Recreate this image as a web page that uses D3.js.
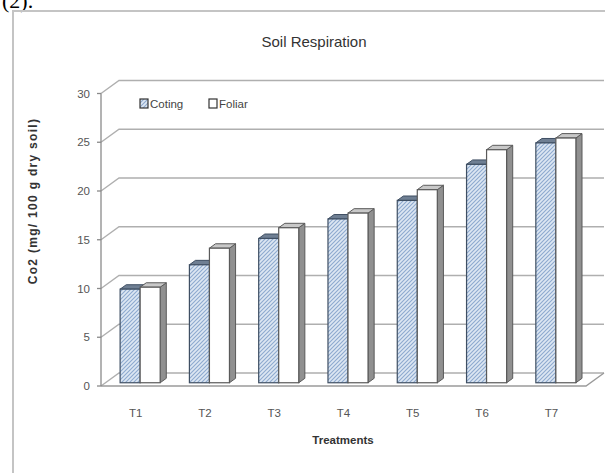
<!DOCTYPE html>
<html>
<head>
<meta charset="utf-8">
<script src="https://cdn.jsdelivr.net/npm/d3@7"></script>
<style>
  html, body { margin: 0; padding: 0; background: #fff; }
  svg { display: block; }
  text { font-family: "Liberation Sans", Arial, sans-serif; }
</style>
</head>
<body>
<div id="chart"></div>
<script>
// Soil respiration per treatment, two application methods
const categories = ["T1", "T2", "T3", "T4", "T5", "T6", "T7"];
const seriesNames = ["Coting", "Foliar"];
const coting = [9.6, 12.1, 14.8, 16.8, 18.7, 22.4, 24.6];
const foliar = [9.8, 13.8, 15.9, 17.4, 19.8, 23.9, 25.1];
const yTicks = [0, 5, 10, 15, 20, 25, 30];

const W = 605, H = 473;
const svg = d3.select("#chart").append("svg").attr("width", W).attr("height", H);

// hatch fill for the Coting series
const defs = svg.append("defs");
const pat = defs.append("pattern")
  .attr("id", "hatch").attr("patternUnits", "userSpaceOnUse")
  .attr("width", 4).attr("height", 4);
pat.append("rect").attr("width", 4).attr("height", 4).attr("fill", "#dde7f3");
pat.append("path").attr("d", "M-1,1 l2,-2 M0,4 l4,-4 M3,5 l2,-2")
  .attr("stroke", "#8da9cf").attr("stroke-width", 1.1);

// page label above the figure frame
svg.append("text").attr("x", 2).attr("y", 8)
  .style("font-family", "'Liberation Serif', 'Times New Roman', serif")
  .style("font-size", "22px").attr("fill", "#000").text("(2).");

// figure frame
svg.append("path").attr("d", `M13,${H} L13,11 L${W},11`)
  .attr("fill", "none").attr("stroke", "#c4c4c4").attr("stroke-width", 2);

// 3D plot geometry: front plane scales plus a depth offset
const x = d3.scaleBand().domain(categories).range([101, 586]);
const xInner = d3.scaleBand().domain(seriesNames).range([0, x.bandwidth()])
  .paddingInner(0).paddingOuter(0.73);
const y = d3.scaleLinear().domain([0, 30]).range([386, 93.5]);
const DX = 18, DY = -13;              // full wall depth
const off = f => [DX * f, DY * f];    // offset at a fraction of the depth

const [bx, by] = off(1);
const xL = x.range()[0], xR = x.range()[1];

// walls & gridlines
const grid = svg.append("g").attr("fill", "none").attr("stroke", "#afafaf").attr("stroke-width", 1.4);
yTicks.forEach(v => {
  // side wall diagonal + back wall horizontal
  grid.append("path")
    .attr("d", `M${xL},${y(v)} L${xL + bx},${y(v) + by} L${xR + bx},${y(v) + by}`);
});
// floor front and right edges
grid.append("path")
  .attr("d", `M${xL},${y(0)} L${xR},${y(0)} L${xR + bx},${y(0) + by}`)
  .attr("stroke", "#9a9a9a");
// vertical axis line and tick marks
const axis = svg.append("g").attr("stroke", "#8a8a8a").attr("stroke-width", 1.3);
axis.append("line").attr("x1", xL).attr("x2", xL).attr("y1", y(0)).attr("y2", y(30));
yTicks.forEach(v => {
  axis.append("line").attr("x1", xL - 4).attr("x2", xL).attr("y1", y(v)).attr("y2", y(v));
});

// tick labels
svg.append("g").selectAll("text").data(yTicks).join("text")
  .attr("x", xL - 11).attr("y", d => y(d) + 4)
  .attr("text-anchor", "end").attr("fill", "#555")
  .style("font-size", "11.5px").text(d => d);

svg.append("g").selectAll("text").data(categories).join("text")
  .attr("x", d => x(d) + x.bandwidth() / 2).attr("y", 417)
  .attr("text-anchor", "middle").attr("fill", "#555")
  .style("font-size", "11.5px").text(d => d);

// bars
const [fx, fy] = off(0.25);   // bar front face depth
const [dx, dy] = off(0.34);   // bar thickness in depth
const barW = xInner.bandwidth();
const styles = {
  Coting: { front: "url(#hatch)", top: "#6f7f93", side: "#6f7f93", stroke: "#3f4f63" },
  Foliar: { front: "#ffffff", top: "#c8c8c8", side: "#909090", stroke: "#5a5a5a" }
};
const barData = [];
categories.forEach((c, i) => {
  barData.push({ cat: c, s: "Coting", v: coting[i] });
  barData.push({ cat: c, s: "Foliar", v: foliar[i] });
});
const yBar = d3.scaleLinear().domain(y.domain()).range(y.range().map(r => r + fy));

const bars = svg.append("g").selectAll("g").data(barData).join("g");
bars.each(function (d) {
  const g = d3.select(this);
  const st = styles[d.s];
  const x0 = x(d.cat) + xInner(d.s) + fx, x1 = x0 + barW;
  const yt = yBar(d.v), yb = yBar(0);
  // right side face
  g.append("path")
    .attr("d", `M${x1},${yt} L${x1 + dx},${yt + dy} L${x1 + dx},${yb + dy} L${x1},${yb} Z`)
    .attr("fill", st.side).attr("stroke", st.stroke).attr("stroke-width", 1);
  // top face
  g.append("path")
    .attr("d", `M${x0},${yt} L${x0 + dx},${yt + dy} L${x1 + dx},${yt + dy} L${x1},${yt} Z`)
    .attr("fill", st.top).attr("stroke", st.stroke).attr("stroke-width", 1);
  // front face
  g.append("rect").attr("x", x0).attr("y", yt).attr("width", barW).attr("height", yb - yt)
    .attr("fill", st.front).attr("stroke", st.stroke).attr("stroke-width", 1.2);
});

// legend
const legend = svg.append("g").attr("transform", "translate(140,99)");
const legendX = [0, 69];
seriesNames.forEach((s, i) => {
  const lg = legend.append("g").attr("transform", `translate(${legendX[i]},0)`);
  lg.append("rect").attr("width", 8).attr("height", 9)
    .attr("fill", styles[s].front).attr("stroke", "#333").attr("stroke-width", 1.2);
  lg.append("text").attr("x", 10).attr("y", 8.5).attr("fill", "#444")
    .style("font-size", "11.5px").text(s);
});

// titles
svg.append("text").attr("x", 314).attr("y", 47).attr("text-anchor", "middle")
  .attr("fill", "#333").style("font-size", "15px").text("Soil Respiration");

svg.append("text").attr("x", 343).attr("y", 444).attr("text-anchor", "middle")
  .attr("fill", "#333").style("font-size", "11.5px").style("font-weight", "bold")
  .text("Treatments");

svg.append("text").attr("transform", "translate(37,201) rotate(-90)")
  .attr("text-anchor", "middle").attr("fill", "#333")
  .style("font-size", "12px").style("font-weight", "bold").style("letter-spacing", "1.3px")
  .text("Co2 (mg/ 100 g dry soil)");
</script>
</body>
</html>
